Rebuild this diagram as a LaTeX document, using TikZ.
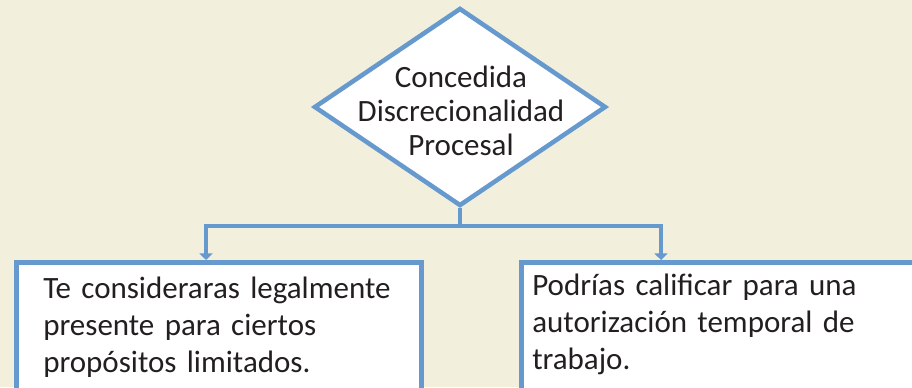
\documentclass[tikz,border=0pt]{standalone}
\usepackage{fontspec}
\setmainfont{Carlito}
\usetikzlibrary{arrows.meta,shapes.geometric,positioning}
\definecolor{flowblue}{RGB}{102,153,206}
\definecolor{paper}{RGB}{242,239,220}
\definecolor{ink}{RGB}{35,31,32}
\tikzset{>={Triangle[width=9.75pt,length=5pt]}}
\tikzset{
    decision/.style={diamond,draw=flowblue,fill=white,line width=3.4pt,minimum width=219pt,minimum height=148.5pt,inner sep=0pt},
    dectext/.style={text width=200pt,align=center,inner sep=0pt,anchor=base,font=\fontsize{23.25}{25.7}\selectfont,text=ink},
    outcome/.style={rectangle,draw=flowblue,fill=white,line width=3.6pt,anchor=north west,inner sep=0pt},
    outtext/.style={text width=285pt,align=left,inner sep=0pt,anchor=base west,font=\fontsize{23.25}{27.75}\selectfont,text=ink},
    link/.style={draw=flowblue,line width=3.2pt},
}

\begin{document}
\begin{tikzpicture}[x=0.75pt,y=-0.75pt]
	\clip (0,0) rectangle (912,387);
	\fill[paper] (0,0) rectangle (912,387);

	\node[decision] (dec) at (460,107) {};
	\node[dectext] (dectxt) at (461,87) {Concedida\\Discrecionalidad\\Procesal};

	\node[outcome,minimum width=303.75pt,minimum height=120pt] (leftbox) at (14,260) {};
	\node[outcome,minimum width=308.25pt,minimum height=120pt] (rightbox) at (519,260) {};
	\node[outtext] (lefttxt) at (43,298) {Te consideraras legalmente\\presente para ciertos\\propósitos limitados.};
	\node[outtext] (righttxt) at (532,295) {Podrías calificar para una\\autorización temporal de\\trabajo.};

	\coordinate (split) at (460,226);
	\coordinate (lhit) at (206,226);
	\coordinate (rhit) at (661,226);

	\draw[link] (dec.south) -- (split);
	\draw[link,->] (split) -- (lhit) -- (leftbox.north -| lhit);
	\draw[link,->] (split) -- (rhit) -- (rightbox.north -| rhit);
\end{tikzpicture}
\end{document}
